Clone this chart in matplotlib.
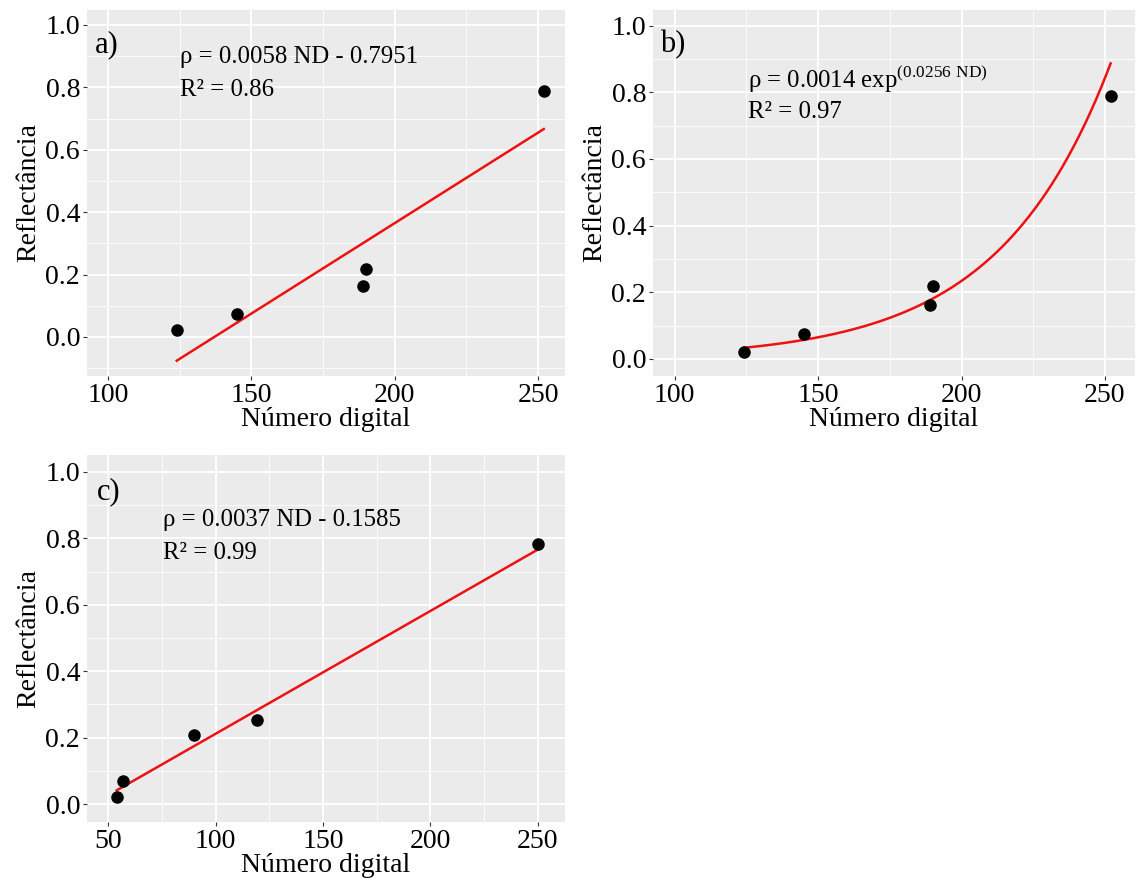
import numpy as np
import matplotlib
matplotlib.use("Agg")
import matplotlib.pyplot as plt
from matplotlib.ticker import MultipleLocator

plt.rcParams['font.family'] = ['Liberation Serif', 'DejaVu Serif']
plt.rcParams['mathtext.fontset'] = 'custom'
plt.rcParams['mathtext.rm'] = 'Liberation Serif'

# data
nd_ab = [124, 145, 189, 190, 252]
refl_ab = [0.022, 0.074, 0.163, 0.218, 0.79]
nd_c = [54, 57, 90, 119.5, 250]
refl_c = [0.021, 0.069, 0.208, 0.253, 0.782]

# fitted models printed on the panels
lin_a = (0.0058, -0.7951)
exp_b = (0.0014, 0.0256)
lin_c = (0.0037, -0.1585)

eq_a = "ρ = 0.0058 ND - 0.7951"
eq_b = "ρ = 0.0014 exp$^{\\mathrm{(0.0256\\ ND)}}$"
eq_c = "ρ = 0.0037 ND - 0.1585"
r2_a = "R² = 0.86"
r2_b = "R² = 0.97"
r2_c = "R² = 0.99"

W, H = 1136, 883
fig = plt.figure(figsize=(W / 100, H / 100), dpi=100)


def make_ax(l, r, t, b):
    return fig.add_axes([l / W, 1 - b / H, (r - l) / W, (b - t) / H])


def style(ax, xlim, ylim, xmaj):
    ax.set_facecolor('#EBEBEB')
    for s in ax.spines.values():
        s.set_visible(False)
    ax.set_xlim(*xlim)
    ax.set_ylim(*ylim)
    ax.xaxis.set_major_locator(MultipleLocator(xmaj))
    ax.xaxis.set_minor_locator(MultipleLocator(xmaj / 2))
    ax.yaxis.set_minor_locator(MultipleLocator(0.1))
    ax.set_yticks(np.arange(0, 1.01, 0.2))
    ax.set_yticklabels(['%.1f' % v for v in np.arange(0, 1.01, 0.2)])
    ax.grid(which='major', color='white', lw=1.3)
    ax.grid(which='minor', color='white', lw=0.6)
    ax.set_axisbelow(True)
    ax.tick_params(which='major', length=3, width=0.8, color='#333333',
                   labelsize=20, labelcolor='black', pad=2)
    ax.tick_params(which='minor', length=0)
    ax.set_xlabel('Número digital', fontsize=20, labelpad=-1)
    ax.set_ylabel('Reflectância', fontsize=20, labelpad=3)


fs = 17.8

# panel a
ax1 = make_ax(87, 565, 10, 376)
style(ax1, (92.7, 259.4), (-0.125, 1.048), 50)
xa = np.array([nd_ab[0], nd_ab[-1]])
ax1.plot(xa, lin_a[0] * xa + lin_a[1], color='#EE1111', lw=1.8)
ax1.plot(nd_ab, refl_ab, 'o', color='black', ms=8)
ax1.text(0.017, 0.905, 'a)', transform=ax1.transAxes, fontsize=22, va='center')
ax1.text(0.195, 0.872, eq_a, transform=ax1.transAxes, fontsize=fs, va='center')
ax1.text(0.195, 0.781, r2_a, transform=ax1.transAxes, fontsize=fs, va='center')

# panel b
ax2 = make_ax(653, 1135, 10, 376)
style(ax2, (92.4, 260.5), (-0.051, 1.047), 50)
xb = np.linspace(nd_ab[0], nd_ab[-1], 200)
ax2.plot(xb, exp_b[0] * np.exp(exp_b[1] * xb), color='#EE1111', lw=1.8)
ax2.plot(nd_ab, refl_ab, 'o', color='black', ms=8)
ax2.text(0.015, 0.905, 'b)', transform=ax2.transAxes, fontsize=22, va='center')
ax2.text(0.197, 0.812, eq_b, transform=ax2.transAxes, fontsize=fs, va='center')
ax2.text(0.197, 0.722, r2_b, transform=ax2.transAxes, fontsize=fs, va='center')

# panel c
ax3 = make_ax(87, 565, 455, 822)
style(ax3, (40.2, 262.6), (-0.054, 1.051), 50)
xc = np.array([nd_c[0], nd_c[-1]])
ax3.plot(xc, lin_c[0] * xc + lin_c[1], color='#EE1111', lw=1.8)
ax3.plot(nd_c, refl_c, 'o', color='black', ms=8)
ax3.text(0.021, 0.899, 'c)', transform=ax3.transAxes, fontsize=22, va='center')
ax3.text(0.159, 0.823, eq_c, transform=ax3.transAxes, fontsize=fs, va='center')
ax3.text(0.159, 0.733, r2_c, transform=ax3.transAxes, fontsize=fs, va='center')

plt.savefig('out.png', dpi=100)
